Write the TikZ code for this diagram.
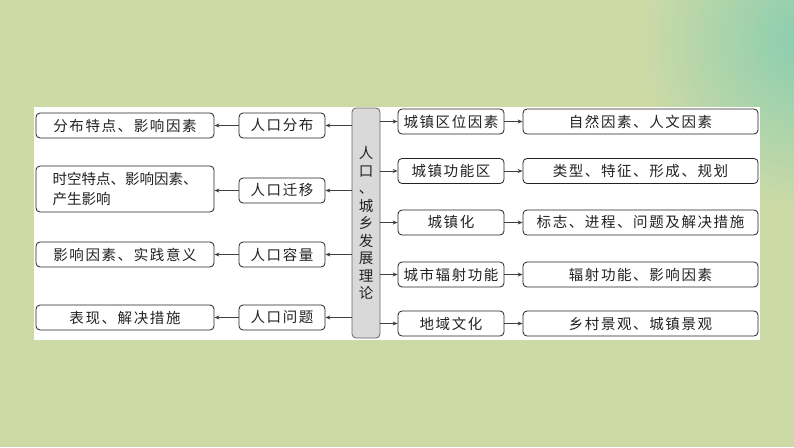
\documentclass[tikz,border=0pt]{standalone}
\usepackage{fontspec}
\newfontfamily\cjk[LetterSpace=11]{Noto Sans CJK SC}
\newfontfamily\cjktight{Noto Sans CJK SC}
\XeTeXlinebreaklocale "zh"
\usetikzlibrary{arrows.meta}
\definecolor{bg}{HTML}{CEDAA6}
\definecolor{tealc}{HTML}{86CDB0}
\definecolor{ink}{HTML}{222222}
\tikzset{
  box/.style={draw=ink, rounded corners=4pt, fill=white, line width=0.8pt, inner sep=0pt,
    text=ink, font=\cjk\fontsize{14.5}{17}\selectfont, align=center, minimum height=25pt},
  lbox/.style={box, minimum width=178pt},
  mbox/.style={box, minimum width=86pt},
  rbox/.style={box, minimum width=106pt},
  rrbox/.style={box, minimum width=235pt},
  arr/.style={-{Stealth[length=5pt,width=4pt]}, draw=black!75, line width=0.7pt}
}
\begin{document}
\begin{tikzpicture}[x=1pt,y=-1pt]
\useasboundingbox (0,0) rectangle (794,447);
\fill[bg] (0,0) rectangle (794,447);
\begin{scope}
\clip (0,0) rectangle (794,447);
\shade[inner color=tealc, outer color=bg] (812,40) circle (175pt);
\end{scope}
\fill[white] (34,107) rectangle (760,340);

% centre
\node[draw=black!60, fill=black!15, rounded corners=4pt, line width=0.8pt, inner sep=0pt,
  minimum width=28pt, minimum height=230pt, align=center, text=ink,
  font=\cjktight\fontsize{14.5}{17.5}\selectfont] (C) at (366,223)
  {人\\口\\、\\城\\乡\\发\\展\\理\\论};

% left middle
\node[mbox] (M1) at (282,125.5) {人口分布};
\node[mbox] (M2) at (282,190.5) {人口迁移};
\node[mbox] (M3) at (282,254.5) {人口容量};
\node[mbox] (M4) at (282,317.5) {人口问题};

% left outer
\node[lbox] (L1) at (125,125.5) {分布特点、影响因素};
\node[lbox, minimum height=46pt, align=left, font=\cjktight\fontsize{14.5}{20}\selectfont] (L2) at (125,189) {时空特点、影响因素、\\产生影响};
\node[lbox] (L3) at (125,254.5) {影响因素、实践意义};
\node[lbox] (L4) at (125,317.5) {表现、解决措施};

% right
\node[rbox] (R1) at (451,121.5) {城镇区位因素};
\node[rbox] (R2) at (451,171) {城镇功能区};
\node[rbox] (R3) at (451,222.5) {城镇化};
\node[rbox] (R4) at (451,274.5) {城市辐射功能};
\node[rbox] (R5) at (451,323.5) {地域文化};

\node[rrbox] (S1) at (640.5,121.5) {自然因素、人文因素};
\node[rrbox] (S2) at (640.5,171) {类型、特征、形成、规划};
\node[rrbox] (S3) at (640.5,222.5) {标志、进程、问题及解决措施};
\node[rrbox] (S4) at (640.5,274.5) {辐射功能、影响因素};
\node[rrbox] (S5) at (640.5,323.5) {乡村景观、城镇景观};

% arrows
\foreach \m/\l in {M1/L1, M2/L2, M3/L3, M4/L4}{
  \draw[arr] (C.west |- \m.east) -- (\m.east);
  \draw[arr] (\m.west) -- (\l.east |- \m.west);
}
\foreach \r/\s in {R1/S1, R2/S2, R3/S3, R4/S4, R5/S5}{
  \draw[arr] (C.east |- \r.west) -- (\r.west);
  \draw[arr] (\r.east) -- (\s.west);
}
\end{tikzpicture}
\end{document}
